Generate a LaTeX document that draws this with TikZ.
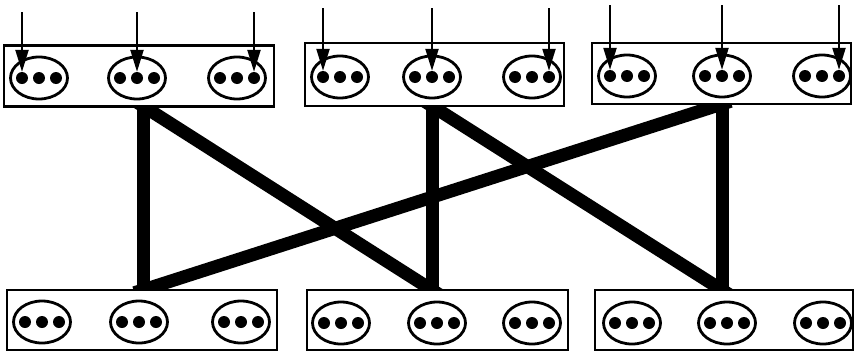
\documentclass[tikz,border=0pt]{standalone}
\usetikzlibrary{shapes.geometric,arrows.meta,backgrounds}
\begin{document}
\begin{tikzpicture}[x=1pt,y=-1pt,
  box/.style={draw, line width=2.6pt, fill=white, rectangle, inner sep=0pt},
  oval/.style={draw, ellipse, line width=2.8pt, minimum width=57pt, minimum height=42pt, inner sep=0pt},
  blob/.style={circle, fill=black, minimum size=12pt, inner sep=0pt},
  link/.style={line width=13pt, shorten <=-9pt, shorten >=-9pt},
  feed/.style={line width=2.2pt, -{Triangle[length=22pt,width=13pt]}}]
\useasboundingbox (0,0) rectangle (858,351);
% boxes
\node[box, minimum width=270pt, minimum height=61pt] (T1) at (139,76) {};
\node[box, minimum width=259pt, minimum height=63pt] (T2) at (434.5,74.5) {};
\node[box, minimum width=259pt, minimum height=61pt] (T3) at (721.5,73.5) {};
\node[box, minimum width=270pt, minimum height=60pt] (B1) at (142,320) {};
\node[box, minimum width=261pt, minimum height=60pt] (B2) at (437.5,320) {};
\node[box, minimum width=258pt, minimum height=60pt] (B3) at (724,320) {};
% link anchors
\coordinate (T1s) at (143,106);
\coordinate (T2s) at (432,106);
\coordinate (T3s) at (722,104);
\coordinate (B1n) at (143,290);
\coordinate (B2n) at (432,290);
\coordinate (B3n) at (722,290);
\begin{scope}[on background layer]
\draw[link] (T1s) -- (B1n);
\draw[link] (T1s) -- (B2n);
\draw[link] (T2s) -- (B2n);
\draw[link] (T2s) -- (B3n);
\draw[link] (T3s) -- (B3n);
\draw[link] (T3s) -- (B1n);
\end{scope}
% ovals with dots
\foreach \n/\x/\y in {T1a/39/78, T1b/137/78, T1c/237/78,
                      T2a/340/77, T2b/432/77, T2c/532/77,
                      T3a/627/76, T3b/722/76, T3c/822/76,
                      B1a/42/322, B1b/139/322, B1c/241/322,
                      B2a/341/323, B2b/437/323, B2c/532/323,
                      B3a/632/323, B3b/727/323, B3c/823/323}{
  \node[oval] (\n) at (\x,\y) {};
  \node[blob] (\n1) at ([xshift=-17pt]\n.center) {};
  \node[blob] (\n2) at (\n.center) {};
  \node[blob] (\n3) at ([xshift=17pt]\n.center) {};
}
% incoming arrows
\coordinate (F11) at (22,12);
\coordinate (F12) at (137,12);
\coordinate (F13) at (254,12);
\coordinate (F21) at (323,8);
\coordinate (F22) at (432,8);
\coordinate (F23) at (549,8);
\coordinate (F31) at (610,5);
\coordinate (F32) at (722,5);
\coordinate (F33) at (839,5);
\draw[feed] (F11) -- (T1a1.north);
\draw[feed] (F12) -- (T1b2.north);
\draw[feed] (F13) -- (T1c3.north);
\draw[feed] (F21) -- (T2a1.north);
\draw[feed] (F22) -- (T2b2.north);
\draw[feed] (F23) -- (T2c3.north);
\draw[feed] (F31) -- (T3a1.north);
\draw[feed] (F32) -- (T3b2.north);
\draw[feed] (F33) -- (T3c3.north);
\end{tikzpicture}
\end{document}
